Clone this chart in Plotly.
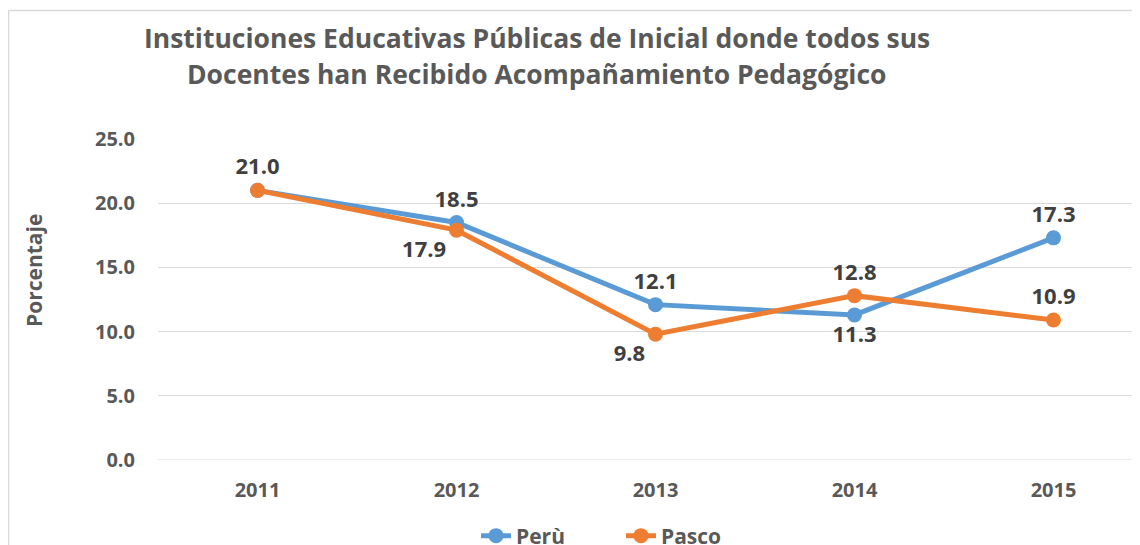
import plotly.graph_objects as go

years = ["2011", "2012", "2013", "2014", "2015"]
peru = [21.0, 18.5, 12.1, 11.3, 17.3]
pasco = [21.0, 17.9, 9.8, 12.8, 10.9]
y_ticks = [0, 5, 10, 15, 20, 25]
title_lines = ["Instituciones Educativas Públicas de Inicial donde todos sus",
               "Docentes han Recibido Acompañamiento Pedagógico"]

W, H = 1140, 545
OFF = 8  # page body margin
L, T = 158 - OFF, 139 - OFF
PLOT_BOTTOM = 460 - OFF
B = H - PLOT_BOTTOM
plot_w = W - L
plot_h = PLOT_BOTTOM - T

FONT = "Open Sans"
BLUE = "#5B9BD5"
ORANGE = "#ED7D31"
GRAY = "#595959"
LABEL = "#404040"

def px_x(sx):
    return (sx - OFF - L) / plot_w

def px_y(sy):
    return (PLOT_BOTTOM - (sy - OFF)) / plot_h

peru_pos = ["top center", "top center", "top center", "bottom center", "top center"]
pasco_pos = ["top center", "bottom left", "bottom left", "top center", "top center"]
pasco_text = [""] + [f"{v:.1f}" for v in pasco[1:]]

lab_font = dict(family=FONT, size=22, color=LABEL, weight="bold")

fig = go.Figure()
fig.add_trace(go.Scatter(
    x=years, y=peru, name="Perù", mode="lines+markers+text",
    line=dict(color=BLUE, width=5), marker=dict(color=BLUE, size=15),
    text=[f"{v:.1f}" for v in peru], textposition=peru_pos,
    textfont=lab_font, cliponaxis=False,
))
fig.add_trace(go.Scatter(
    x=years, y=pasco, name="Pasco", mode="lines+markers+text",
    line=dict(color=ORANGE, width=5), marker=dict(color=ORANGE, size=15),
    text=pasco_text, textposition=pasco_pos,
    textfont=lab_font, cliponaxis=False,
))

title_font = dict(family=FONT, size=26.5, color=GRAY, weight="bold")
annotations = [
    dict(text=title_lines[0], x=px_x(537), y=px_y(38), xref="paper", yref="paper",
         showarrow=False, xanchor="center", yanchor="middle", font=title_font),
    dict(text=title_lines[1], x=px_x(537), y=px_y(74), xref="paper", yref="paper",
         showarrow=False, xanchor="center", yanchor="middle", font=title_font),
    dict(text="Porcentaje", x=px_x(34), y=px_y(271), xref="paper", yref="paper",
         showarrow=False, xanchor="center", yanchor="middle", textangle=-90,
         font=dict(family=FONT, size=21, color=GRAY, weight="bold")),
]

shapes = [
    dict(type="line", xref="paper", yref="paper", x0=px_x(8.5), x1=px_x(8.5),
         y0=px_y(10.5), y1=px_y(600), line=dict(color="#D9D9D9", width=1.5)),
    dict(type="line", xref="paper", yref="paper", x0=px_x(8.5), x1=px_x(1200),
         y0=px_y(10.5), y1=px_y(10.5), line=dict(color="#D9D9D9", width=1.5)),
]

tick_font = dict(family=FONT, size=20, color=GRAY, weight="bold")

fig.update_layout(
    width=W, height=H,
    margin=dict(l=L, r=0, t=T, b=B, autoexpand=False),
    paper_bgcolor="white", plot_bgcolor="white",
    showlegend=True,
    legend=dict(orientation="h", x=px_x(476), xanchor="left", y=px_y(536), yanchor="middle",
                font=dict(family=FONT, size=21, color=GRAY, weight="bold"),
                entrywidth=100, traceorder="normal", bgcolor="rgba(0,0,0,0)"),
    annotations=annotations,
    shapes=shapes,
    xaxis=dict(type="category", range=[-0.5, -0.5 + plot_w / 199.0],
               showgrid=False, zeroline=False, showline=False, ticks="",
               ticklabelstandoff=16, tickfont=tick_font),
    yaxis=dict(range=[0, 25], tickvals=y_ticks, ticktext=[f"{v:.1f}" for v in y_ticks],
               showgrid=True, gridcolor="#D9D9D9", gridwidth=1,
               zeroline=False, showline=False, ticks="", ticklabelstandoff=22,
               tickfont=tick_font),
)
fig.add_hline(y=0, line=dict(color="#D9D9D9", width=1))

fig.write_html("out.html")
